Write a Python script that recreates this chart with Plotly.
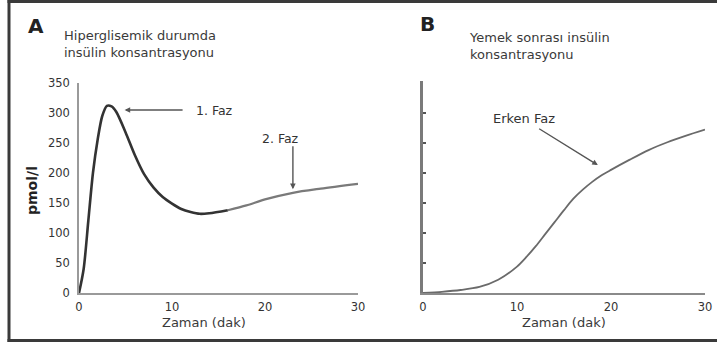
import plotly.graph_objects as go

# ---- data ----
time_a = [0, 0.5, 1, 1.5, 2, 2.5, 3, 3.5, 4, 5, 6, 7, 8, 9, 10, 11, 12, 13, 14, 16, 18, 20, 23, 26, 30]
insulin_a = [0, 40, 120, 200, 255, 295, 312, 311, 302, 268, 230, 198, 176, 160, 149, 140, 135, 132, 133, 138, 146, 156, 167, 174, 182]

time_b = [0, 2, 4, 6, 8, 10, 11, 12, 13, 14, 15, 16, 17, 18, 19, 20, 22, 24, 26, 28, 30]
insulin_b = [0, 2, 5, 10, 22, 44, 60, 78, 98, 118, 138, 157, 172, 185, 196, 205, 222, 238, 251, 262, 272]

x_ticks = [0, 10, 20, 30]
y_ticks_a = [0, 50, 100, 150, 200, 250, 300, 350]
y_ticks_b = [50, 100, 150, 200, 250, 300]

W, H = 717, 344
split = 19  # index where the curve of panel A turns lighter

fig = go.Figure()
fig.add_trace(go.Scatter(x=time_a[:split + 1], y=insulin_a[:split + 1], mode="lines",
                         line=dict(color="#333333", width=2.6, shape="spline", smoothing=0.8),
                         xaxis="x", yaxis="y", showlegend=False, hoverinfo="skip"))
fig.add_trace(go.Scatter(x=time_a[split:], y=insulin_a[split:], mode="lines",
                         line=dict(color="#7a7a7a", width=2.2, shape="spline", smoothing=0.8),
                         xaxis="x", yaxis="y", showlegend=False, hoverinfo="skip"))
fig.add_trace(go.Scatter(x=time_b, y=insulin_b, mode="lines",
                         line=dict(color="#6a6a6a", width=1.8, shape="spline", smoothing=0.8),
                         xaxis="x2", yaxis="y2", showlegend=False, hoverinfo="skip"))

tickfont = dict(family="DejaVu Sans", size=11.5, color="#333333")

def px_x(p):
    return p / W

def px_y(p):
    return (H - p) / H

fig.update_layout(
    width=W, height=H,
    margin=dict(l=0, r=0, t=0, b=0, pad=0, autoexpand=False),
    paper_bgcolor="white", plot_bgcolor="white",
    xaxis=dict(domain=[px_x(79), px_x(358)], range=[0, 30], tickvals=x_ticks,
               showgrid=False, zeroline=False, showline=True, linecolor="#9a9a9a", linewidth=1.6,
               ticks="", tickfont=tickfont, ticklabelstandoff=2, anchor="y"),
    yaxis=dict(domain=[px_y(293), px_y(83)], range=[0, 350], tickvals=y_ticks_a,
               showgrid=False, zeroline=False, showline=True, linecolor="#9a9a9a", linewidth=1.6,
               ticks="", tickfont=tickfont, ticklabelstandoff=5, anchor="x"),
    xaxis2=dict(domain=[px_x(423), px_x(705)], range=[0, 30], tickvals=x_ticks,
                showgrid=False, zeroline=False, showline=True, linecolor="#8a8a8a", linewidth=2,
                ticks="", tickfont=tickfont, ticklabelstandoff=2, anchor="y2"),
    yaxis2=dict(domain=[px_y(293), px_y(81)], range=[0, 353], tickvals=y_ticks_b,
                showgrid=False, zeroline=False, showline=True, linecolor="#7a7a7a", linewidth=2.5,
                ticks="inside", ticklen=3, tickcolor="#555555", tickwidth=1.5,
                showticklabels=False, anchor="x2"),
)

txt = "#3a3a3a"

def label(text, cx, cy, size, color=txt, xanchor="center", angle=0, align="center"):
    return dict(text=text, x=px_x(cx), y=px_y(cy), xref="paper", yref="paper",
                xanchor=xanchor, yanchor="middle", align=align, textangle=angle,
                showarrow=False, font=dict(family="DejaVu Sans", size=size, color=color))

ann = [
    label("<b>A</b>", 36, 26, 20, "#222"),
    label("<b>B</b>", 427, 24, 20, "#222"),
    label("Hiperglisemik durumda<br>insülin konsantrasyonu", 62, 44, 13, xanchor="left", align="left"),
    label("Yemek sonrası insülin<br>konsantrasyonu", 467, 46, 13, xanchor="left", align="left"),
    label("Zaman (dak)", 204, 322, 13),
    label("Zaman (dak)", 564, 322, 13),
    label("<b>pmol/l</b>", 32, 191, 14, "#222", angle=-90),
    label("1. Faz", 214, 110, 12.5, "#333"),
    label("2. Faz", 280, 138, 12.5, "#333"),
    label("Erken Faz", 524, 118, 13, "#333"),
]
# arrows
arrow = dict(text="", showarrow=True, arrowhead=2, arrowsize=0.8, arrowwidth=1.4, arrowcolor="#555")
ann.append(dict(arrow, x=4.9, y=305, ax=11.3, ay=305, xref="x", yref="y", axref="x", ayref="y"))
ann.append(dict(arrow, x=23.0, y=173, ax=23.0, ay=247, xref="x", yref="y", axref="x", ayref="y"))
ann.append(dict(arrow, x=18.6, y=213, ax=12.2, ay=275, xref="x2", yref="y2", axref="x2", ayref="y2"))
fig.update_layout(annotations=ann)

# outer frame (left, top, bottom edges; right edge lies outside the picture)
dark = "#3a3a3a"
fig.add_shape(type="rect", xref="paper", yref="paper", x0=px_x(7.5), x1=px_x(10.5),
              y0=px_y(342), y1=1, line=dict(width=0), fillcolor=dark)
fig.add_shape(type="rect", xref="paper", yref="paper", x0=px_x(7.5), x1=1,
              y0=px_y(3), y1=1, line=dict(width=0), fillcolor=dark)
fig.add_shape(type="rect", xref="paper", yref="paper", x0=px_x(7.5), x1=1,
              y0=px_y(342), y1=px_y(339), line=dict(width=0), fillcolor=dark)

fig.write_html("out.html", config={"displayModeBar": False},
               post_script="document.body.style.margin='0';document.body.style.overflow='hidden';")
